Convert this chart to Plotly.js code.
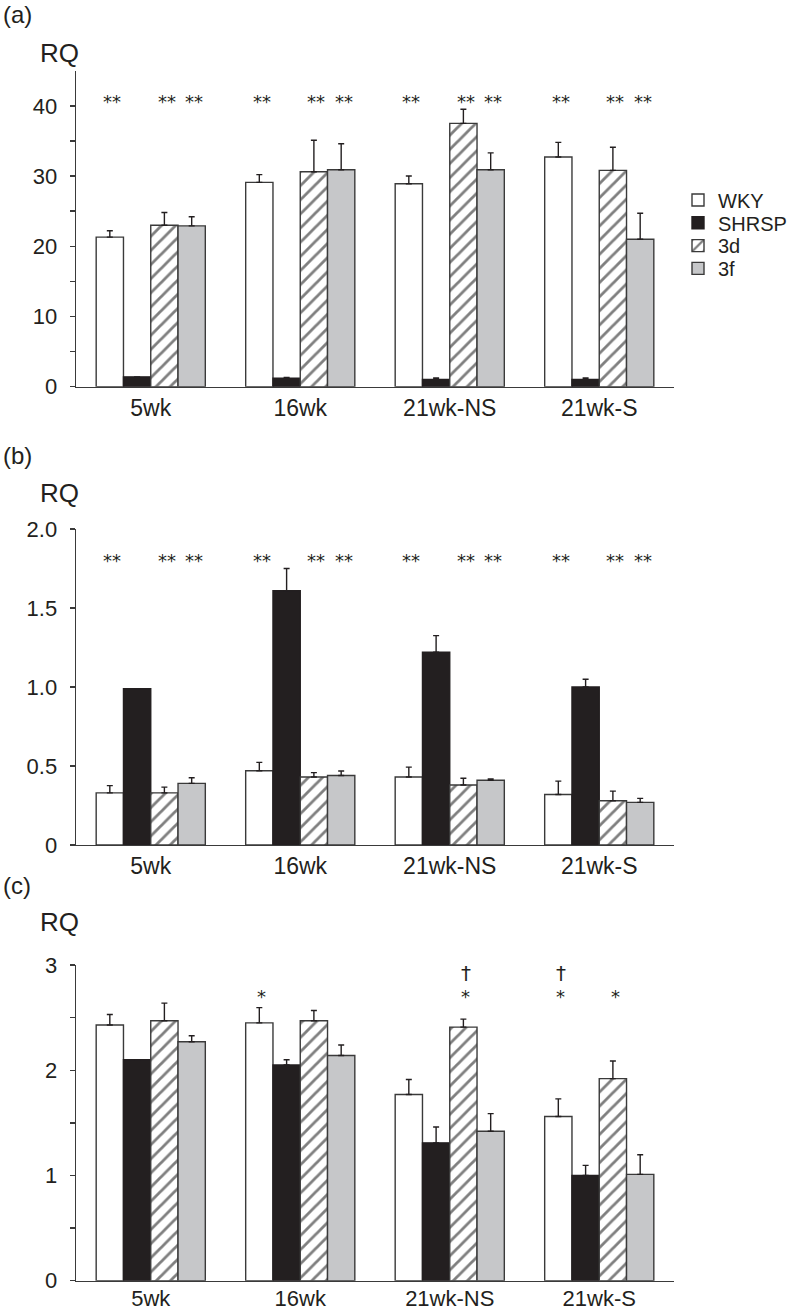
<!DOCTYPE html>
<html><head><meta charset="utf-8">
<script src="https://cdn.plot.ly/plotly-3.0.1.min.js"></script>
<style>body{margin:0;background:#fff}#chart{width:800px;height:1312px}</style>
</head><body><div id="chart"></div>
<script>
// ---------- data ----------
const categories = ['5wk', '16wk', '21wk-NS', '21wk-S'];
const seriesNames = ['WKY', 'SHRSP', '3d', '3f'];

// Panel (a)
const aWKY = [21.3, 29.1, 28.9, 32.7];
const aWKYerr = [0.9, 1.1, 1.1, 2.1];
const aSHRSP = [1.4, 1.2, 1.05, 1.05];
const aSHRSPerr = [0, 0.12, 0.18, 0.18];
const a3d = [23.0, 30.6, 37.5, 30.8];
const a3dErr = [1.8, 4.5, 2.0, 3.3];
const a3f = [22.9, 30.9, 30.9, 21.0];
const a3fErr = [1.3, 3.7, 2.4, 3.7];

// Panel (b)
const bWKY = [0.33, 0.47, 0.43, 0.32];
const bWKYerr = [0.046, 0.053, 0.063, 0.084];
const bSHRSP = [0.99, 1.61, 1.22, 1.00];
const bSHRSPerr = [0, 0.14, 0.105, 0.049];
const b3d = [0.33, 0.43, 0.38, 0.28];
const b3dErr = [0.036, 0.028, 0.042, 0.061];
const b3f = [0.39, 0.44, 0.41, 0.27];
const b3fErr = [0.036, 0.028, 0.008, 0.025];

// Panel (c)
const cWKY = [2.43, 2.45, 1.77, 1.56];
const cWKYerr = [0.10, 0.145, 0.142, 0.168];
const cSHRSP = [2.10, 2.05, 1.31, 1.00];
const cSHRSPerr = [0, 0.05, 0.15, 0.096];
const c3d = [2.47, 2.47, 2.41, 1.92];
const c3dErr = [0.168, 0.098, 0.076, 0.168];
const c3f = [2.27, 2.14, 1.42, 1.01];
const c3fErr = [0.057, 0.10, 0.168, 0.187];

// significance marks per category, per series [WKY, SHRSP, 3d, 3f]
const aStars = [['**', '', '**', '**'], ['**', '', '**', '**'], ['**', '', '**', '**'], ['**', '', '**', '**']];
const bStars = [['**', '', '**', '**'], ['**', '', '**', '**'], ['**', '', '**', '**'], ['**', '', '**', '**']];
const cStars = [['', '', '', ''], ['*', '', '', ''], ['', '', '*', ''], ['*', '', '*', '']];
const cDaggers = [['', '', '', ''], ['', '', '', ''], ['', '', '†', ''], ['†', '', '', '']];

// axis ticks
const aTickVals = [0, 10, 20, 30, 40];
const aTickText = ['0', '10', '20', '30', '40'];
const aMinorTicks = [5, 15, 25, 35];
const bTickVals = [0, 0.5, 1.0, 1.5, 2.0];
const bTickText = ['0', '0.5', '1.0', '1.5', '2.0'];
const cTickVals = [0, 1, 2, 3];
const cTickText = ['0', '1', '2', '3'];
const cMinorTicks = [0.5, 1.5, 2.5];

// ---------- layout helpers ----------
const W = 800, H = 1312, L = 76, R = 126;
const plotW = W - L - R;
const px2x = p => (p - L) / plotW;
const px2y = p => 1 - p / H;
const BARGAP = 0.27;
const barW = (1 - BARGAP) / 4;
const INK = '#231f20';
const AX = '#3a3a3a';
const FONT = 'Liberation Sans, Arial, Helvetica, sans-serif';

const panels = [
  {vals: [aWKY, aSHRSP, a3d, a3f], errs: [aWKYerr, aSHRSPerr, a3dErr, a3fErr], range: [0, 45],
   tv: aTickVals, tt: aTickText, minor: aMinorTicks, dom: [px2y(386.7), px2y(70.7)], catSize: 23, catOff: 0},
  {vals: [bWKY, bSHRSP, b3d, b3f], errs: [bWKYerr, bSHRSPerr, b3dErr, b3fErr], range: [0, 2],
   tv: bTickVals, tt: bTickText, minor: null, dom: [px2y(845), px2y(529)], catSize: 23, catOff: 0},
  {vals: [cWKY, cSHRSP, c3d, c3f], errs: [cWKYerr, cSHRSPerr, c3dErr, c3fErr], range: [0, 3],
   tv: cTickVals, tt: cTickText, minor: cMinorTicks, dom: [px2y(1280.7), px2y(965)], catSize: 22, catOff: -3}
];

const markers = [
  {color: '#ffffff', line: {color: AX, width: 1.4}},
  {color: INK, line: {color: INK, width: 1.4}},
  {color: '#ffffff', line: {color: AX, width: 1.4},
   pattern: {shape: '/', fgcolor: '#000000', bgcolor: '#ffffff', size: 10, solidity: 0.28, fillmode: 'overlay'}},
  {color: '#c6c7c9', line: {color: AX, width: 1.4}}
];
const legendIds = ['legend', 'legend2', 'legend3', 'legend4'];

const traces = [];
panels.forEach((p, pi) => {
  const sfx = pi === 0 ? '' : String(pi + 1);
  p.vals.forEach((v, si) => {
    traces.push({
      type: 'bar', x: categories, y: v, name: seriesNames[si],
      xaxis: 'x' + sfx, yaxis: 'y' + sfx,
      marker: markers[si],
      error_y: {type: 'data', symmetric: false, array: p.errs[si], arrayminus: categories.map(() => 0),
                color: INK, thickness: 1.4, width: 3},
      showlegend: pi === 0, legend: legendIds[si],
      hoverinfo: 'skip'
    });
  });
});

const layout = {
  width: W, height: H,
  margin: {l: L, r: R, t: 0, b: 0, pad: 0, autoexpand: false},
  paper_bgcolor: '#fff', plot_bgcolor: '#fff',
  font: {family: FONT, color: INK},
  barmode: 'group', bargap: BARGAP, bargroupgap: 0,
  annotations: []
};

panels.forEach((p, pi) => {
  const sfx = pi === 0 ? '' : String(pi + 1);
  layout['xaxis' + sfx] = {
    anchor: 'y' + sfx, domain: [0, 1], type: 'category', range: [-0.5, 3.5],
    showline: true, linecolor: AX, linewidth: 1.4, ticks: '', showgrid: false, zeroline: false,
    ticklabelstandoff: p.catOff,
    tickfont: {size: p.catSize, family: FONT, color: INK}, fixedrange: true
  };
  const ya = {
    anchor: 'x' + sfx, domain: p.dom, range: p.range,
    showline: true, linecolor: AX, linewidth: 1.4,
    ticks: 'outside', ticklen: 5, tickwidth: 1.4, tickcolor: AX,
    tickmode: 'array', tickvals: p.tv, ticktext: p.tt, ticklabelstandoff: 8,
    showgrid: false, zeroline: false,
    tickfont: {size: 22, family: FONT, color: INK}, fixedrange: true
  };
  if (p.minor) ya.minor = {tickmode: 'array', tickvals: p.minor, ticks: 'outside', ticklen: 5, tickwidth: 1.4, tickcolor: AX, showgrid: false};
  layout['yaxis' + sfx] = ya;
});

// legends (one per series row)
const legendRowPx = [200, 222.8, 245.6, 268.4];
legendIds.forEach((id, i) => {
  layout[id] = {
    x: px2x(678), xanchor: 'left', y: px2y(legendRowPx[i]), yanchor: 'middle',
    font: {size: 20, family: FONT, color: INK}, bgcolor: 'rgba(0,0,0,0)', borderwidth: 0,
    itemwidth: 30, tracegroupgap: 0
  };
});

// panel labels and RQ
const panelLabels = ['(a)', '(b)', '(c)'];
const panelLabelY = [14.5, 455.7, 885];
const rqY = [52.5, 493, 922];
panelLabels.forEach((t, i) => {
  layout.annotations.push({text: t, xref: 'paper', yref: 'paper', x: px2x(1), y: px2y(panelLabelY[i]),
    xanchor: 'left', yanchor: 'middle', showarrow: false, font: {size: 24, family: FONT, color: INK}});
  layout.annotations.push({text: 'RQ', xref: 'paper', yref: 'paper', x: px2x(59.5), y: px2y(rqY[i]),
    xanchor: 'center', yanchor: 'middle', showarrow: false, font: {size: 26, family: FONT, color: INK}});
});

// significance marks
function addMarks(marks, yval, sfx, size) {
  marks.forEach((row, ci) => row.forEach((t, si) => {
    if (!t) return;
    layout.annotations.push({text: t, xref: 'x' + sfx, yref: 'y' + sfx,
      x: ci + (si - 1.5) * barW, y: yval, xshift: 2.5, xanchor: 'center', yanchor: 'middle',
      showarrow: false, font: {size: size, family: 'DejaVu Sans, sans-serif', color: INK}});
  }));
}
addMarks(aStars, 40.6, '', 18);
addMarks(bStars, 1.80, '2', 18);
addMarks(cStars, 2.70, '3', 18);
addMarks(cDaggers, 2.92, '3', 20);

Plotly.newPlot('chart', traces, layout, {staticPlot: true, displayModeBar: false});
</script>
</body></html>
